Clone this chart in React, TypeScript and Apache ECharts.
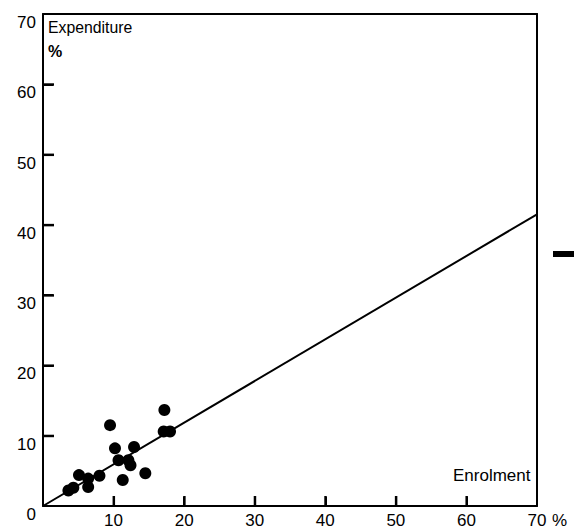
import React, { useEffect, useRef } from "react";
import * as echarts from "echarts";

const enrolment = [3.6, 4.3, 5.1, 6.4, 6.4, 8.0, 9.5, 10.2, 10.7, 11.3, 12.1, 12.4, 12.9, 14.5, 17.2, 17.1, 18.0];
const expenditure = [2.2, 2.6, 4.4, 3.9, 2.7, 4.3, 11.5, 8.2, 6.5, 3.7, 6.5, 5.8, 8.4, 4.65, 13.65, 10.6, 10.6];
const trendX = [0, 70];
const trendY = [0, 41.5];
const tickValues = [0, 10, 20, 30, 40, 50, 60, 70];

const FONT = "'Liberation Sans', Arial, sans-serif";

export default function App() {
  const ref = useRef<HTMLDivElement>(null);
  useEffect(() => {
    if (!ref.current) return;
    const chart = echarts.init(ref.current, null, { renderer: "svg" });
    const points = enrolment.map((x, i) => [x, expenditure[i]]);
    const trend = trendX.map((x, i) => [x, trendY[i]]);
    const min = tickValues[0];
    const max = tickValues[tickValues.length - 1];
    const innerTicks = tickValues.slice(1, -1);
    const frameAxis = {
      type: "value",
      min,
      max,
      interval: 10,
      axisLine: { show: true, onZero: false, lineStyle: { color: "#000", width: 2 } },
      axisTick: { show: false },
      axisLabel: { show: false },
      splitLine: { show: false },
    };
    const baseGraphic: any[] = [
      {
        type: "text",
        left: 48,
        top: 19,
        style: { text: "Expenditure", fontSize: 15.8, fontFamily: FONT, fill: "#000" },
      },
      {
        type: "text",
        left: 48,
        top: 43,
        style: { text: "%", fontSize: 16, fontWeight: "bold", fontFamily: FONT, fill: "#000" },
      },
      {
        type: "text",
        left: 453,
        top: 467,
        style: { text: "Enrolment", fontSize: 17, fontFamily: FONT, fill: "#000" },
      },
      {
        type: "text",
        left: 552,
        top: 512,
        style: { text: "%", fontSize: 17, fontFamily: FONT, fill: "#000" },
      },
      {
        type: "rect",
        shape: { x: 553, y: 251, width: 21, height: 6 },
        style: { fill: "#000" },
      },
    ];
    chart.setOption({
      animation: false,
      backgroundColor: "#ffffff",
      grid: { left: 43, right: 37, top: 14, bottom: 26 },
      xAxis: [
        {
          type: "value",
          position: "bottom",
          min,
          max,
          interval: 10,
          axisLine: { show: true, onZero: false, lineStyle: { color: "#000", width: 2 } },
          axisTick: { show: true, inside: true, length: 9, lineStyle: { color: "#000", width: 2 } },
          splitLine: { show: false },
          axisLabel: {
            showMinLabel: false,
            margin: 6,
            color: "#000",
            fontSize: 17,
            fontFamily: FONT,
          },
        },
        { ...frameAxis, position: "top" },
      ],
      yAxis: [
        {
          type: "value",
          position: "left",
          min,
          max,
          interval: 10,
          axisLine: { show: true, onZero: false, lineStyle: { color: "#000", width: 2 } },
          axisTick: { show: true, inside: true, length: 10, lineStyle: { color: "#000", width: 2 } },
          splitLine: { show: false },
          axisLabel: {
            margin: 7,
            color: "#000",
            fontSize: 17,
            fontFamily: FONT,
            verticalAlign: "top",
          },
        },
        { ...frameAxis, position: "right" },
      ],
      graphic: baseGraphic,
      series: [
        {
          type: "line",
          data: trend,
          symbol: "none",
          lineStyle: { color: "#000", width: 2 },
          silent: true,
        },
        {
          type: "scatter",
          data: points,
          symbolSize: 12,
          itemStyle: { color: "#000", opacity: 1 },
        },
      ],
    });
    const tickGraphic: any[] = [];
    innerTicks.forEach((v) => {
      const px = chart.convertToPixel({ xAxisIndex: 0, yAxisIndex: 0 }, [v, min]) as number[];
      const py = chart.convertToPixel({ xAxisIndex: 0, yAxisIndex: 0 }, [min, v]) as number[];
      if (px && isFinite(px[0])) {
        tickGraphic.push({
          type: "rect",
          z: 100,
          shape: { x: px[0] - 1, y: px[1] - 10, width: 2.5, height: 10 },
          style: { fill: "#000" },
        });
      }
      if (py && isFinite(py[1])) {
        tickGraphic.push({
          type: "rect",
          z: 100,
          shape: { x: py[0], y: py[1] - 1, width: 11, height: 2.5 },
          style: { fill: "#000" },
        });
      }
    });
    chart.setOption({ graphic: [...baseGraphic, ...tickGraphic] });
    return () => chart.dispose();
  }, []);
  return (
    <div
      ref={ref}
      style={{ position: "fixed", left: 0, top: 0, width: 574, height: 532 }}
    />
  );
}
